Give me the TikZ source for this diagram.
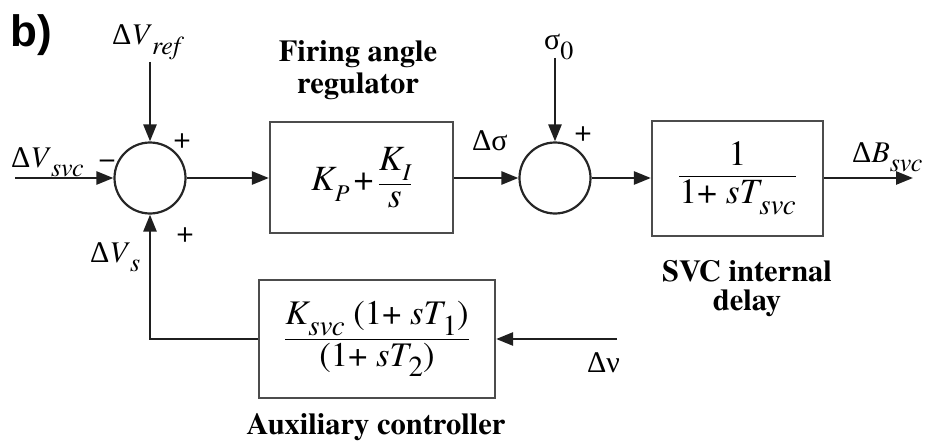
\documentclass[tikz,border=0pt]{standalone}
\usepackage{amsmath}
\usepackage{fontspec}
\setmainfont{texgyretermes}[Extension=.otf, UprightFont=*-regular, ItalicFont=*-italic, BoldFont=*-bold, BoldItalicFont=*-bolditalic]
\newfontfamily\grk{Liberation Serif}
\setsansfont{Liberation Sans}
\usetikzlibrary{arrows.meta}
\newcommand{\Dl}{{\grk Δ}}
\newcommand{\lowsub}[1]{\raisebox{-0.32em}{\fontsize{26}{26}\selectfont\itshape #1}}
\newcommand{\fsub}[1]{\raisebox{-0.3em}{\fontsize{29}{29}\selectfont\itshape #1}}
\newcommand{\smsub}[1]{\raisebox{-0.3em}{\fontsize{24}{24}\selectfont\itshape #1}}
\begin{document}
\begin{tikzpicture}[x=1pt,y=-1pt,
  every node/.style={font=\fontsize{30}{32}\selectfont, inner sep=0pt},
  frac/.style={font=\fontsize{35.5}{38}\selectfont},
  fracs/.style={font=\fontsize{34.5}{36}\selectfont},
  line/.style={line width=2.6pt, draw=black!88},
  arr/.style={line, -{Triangle[length=17pt,width=13pt]}},
  sumc/.style={circle, draw=black!85, line width=2.2pt, minimum size=71pt, inner sep=0pt},
  blk/.style={draw=black!70, line width=2.2pt, rectangle, inner sep=0pt},
  lbl/.style={font=\fontsize{30.5}{33}\selectfont\bfseries, align=center}]
\useasboundingbox (0,0) rectangle (931,444);

% blocks
\node[sumc] (s1) at (150,178) {};
\node[blk, frac, minimum width=183pt, minimum height=111pt] (b1) at (361.5,177.5)
  {$\text{\itshape K\smsub{P}}\,\text{+}\,\dfrac{\text{\itshape K\smsub{I}}}{\text{\itshape s}}$};
\node[sumc] (s2) at (555,178) {};
\node[blk, frac, minimum width=171pt, minimum height=115pt] (b3) at (737.5,178.5)
  {$\dfrac{\text{1}}{\text{1+ \itshape sT\fsub{svc}}}$};
\node[blk, fracs, minimum width=236pt, minimum height=118pt] (aux) at (377,339)
  {$\dfrac{\text{\itshape K\fsub{svc}}\text{ (1+ \itshape sT\fsub{\upshape 1}\upshape)}}{\text{(1+ \itshape sT\fsub{\upshape 2}\upshape)}}$};

% free ends
\coordinate (in) at (15,178);
\coordinate (ref) at (150,62);
\coordinate (sig) at (555,58);
\coordinate (out) at (913,178);
\coordinate (dv) at (617,339);

% connectors
\draw[arr] (in) -- (s1.west);
\draw[arr] (ref) -- (s1.north);
\draw[arr] (s1.east) -- (b1.west|-s1.east);
\draw[arr] (b1.east|-s2.west) -- (s2.west);
\draw[arr] (sig) -- (s2.north);
\draw[arr] (s2.east) -- (b3.west|-s2.east);
\draw[arr] (b3.east|-out) -- (out);
\draw[arr] (dv) -- (aux.east);
\draw[arr] (aux.west) -| (s1.south);

% labels
\node[anchor=base west] (lb) at (10,47) {\sffamily\bfseries\fontsize{44}{44}\selectfont b)};
\node[anchor=base west] (lref) at (112,45) {\Dl\textit{V}\lowsub{ref}};
\node[anchor=base west] (lsvc) at (11,167) {\Dl\textit{V}\lowsub{svc}};
\node (lm) at (107,164) {−};
\node (lp1) at (182,141) {+};
\node (lp2) at (185,235) {+};
\node[anchor=base west] (lvs) at (90,262) {\Dl\textit{V}\lowsub{s}};
\node[anchor=base west] (lsig) at (472,150) {{\grk Δσ}};
\node[anchor=base west] (lsig0) at (544,50) {{\grk σ}\lowsub{\upshape 0}};
\node (lp3) at (583,134) {+};
\node[anchor=base west] (lbs) at (852,162) {\Dl\textit{B}\lowsub{svc}};
\node[anchor=base west] (lnu) at (587,372) {{\grk Δν}};
\node[lbl, anchor=base] (tfire) at (358,62) {Firing angle};
\node[lbl, anchor=base] (treg) at (358,93) {regulator};
\node[lbl, anchor=base] (tsvc) at (747,281) {SVC internal};
\node[lbl, anchor=base] (tdel) at (747,310) {delay};
\node[lbl, anchor=base] (taux) at (376,434) {Auxiliary controller};
\end{tikzpicture}
\end{document}
